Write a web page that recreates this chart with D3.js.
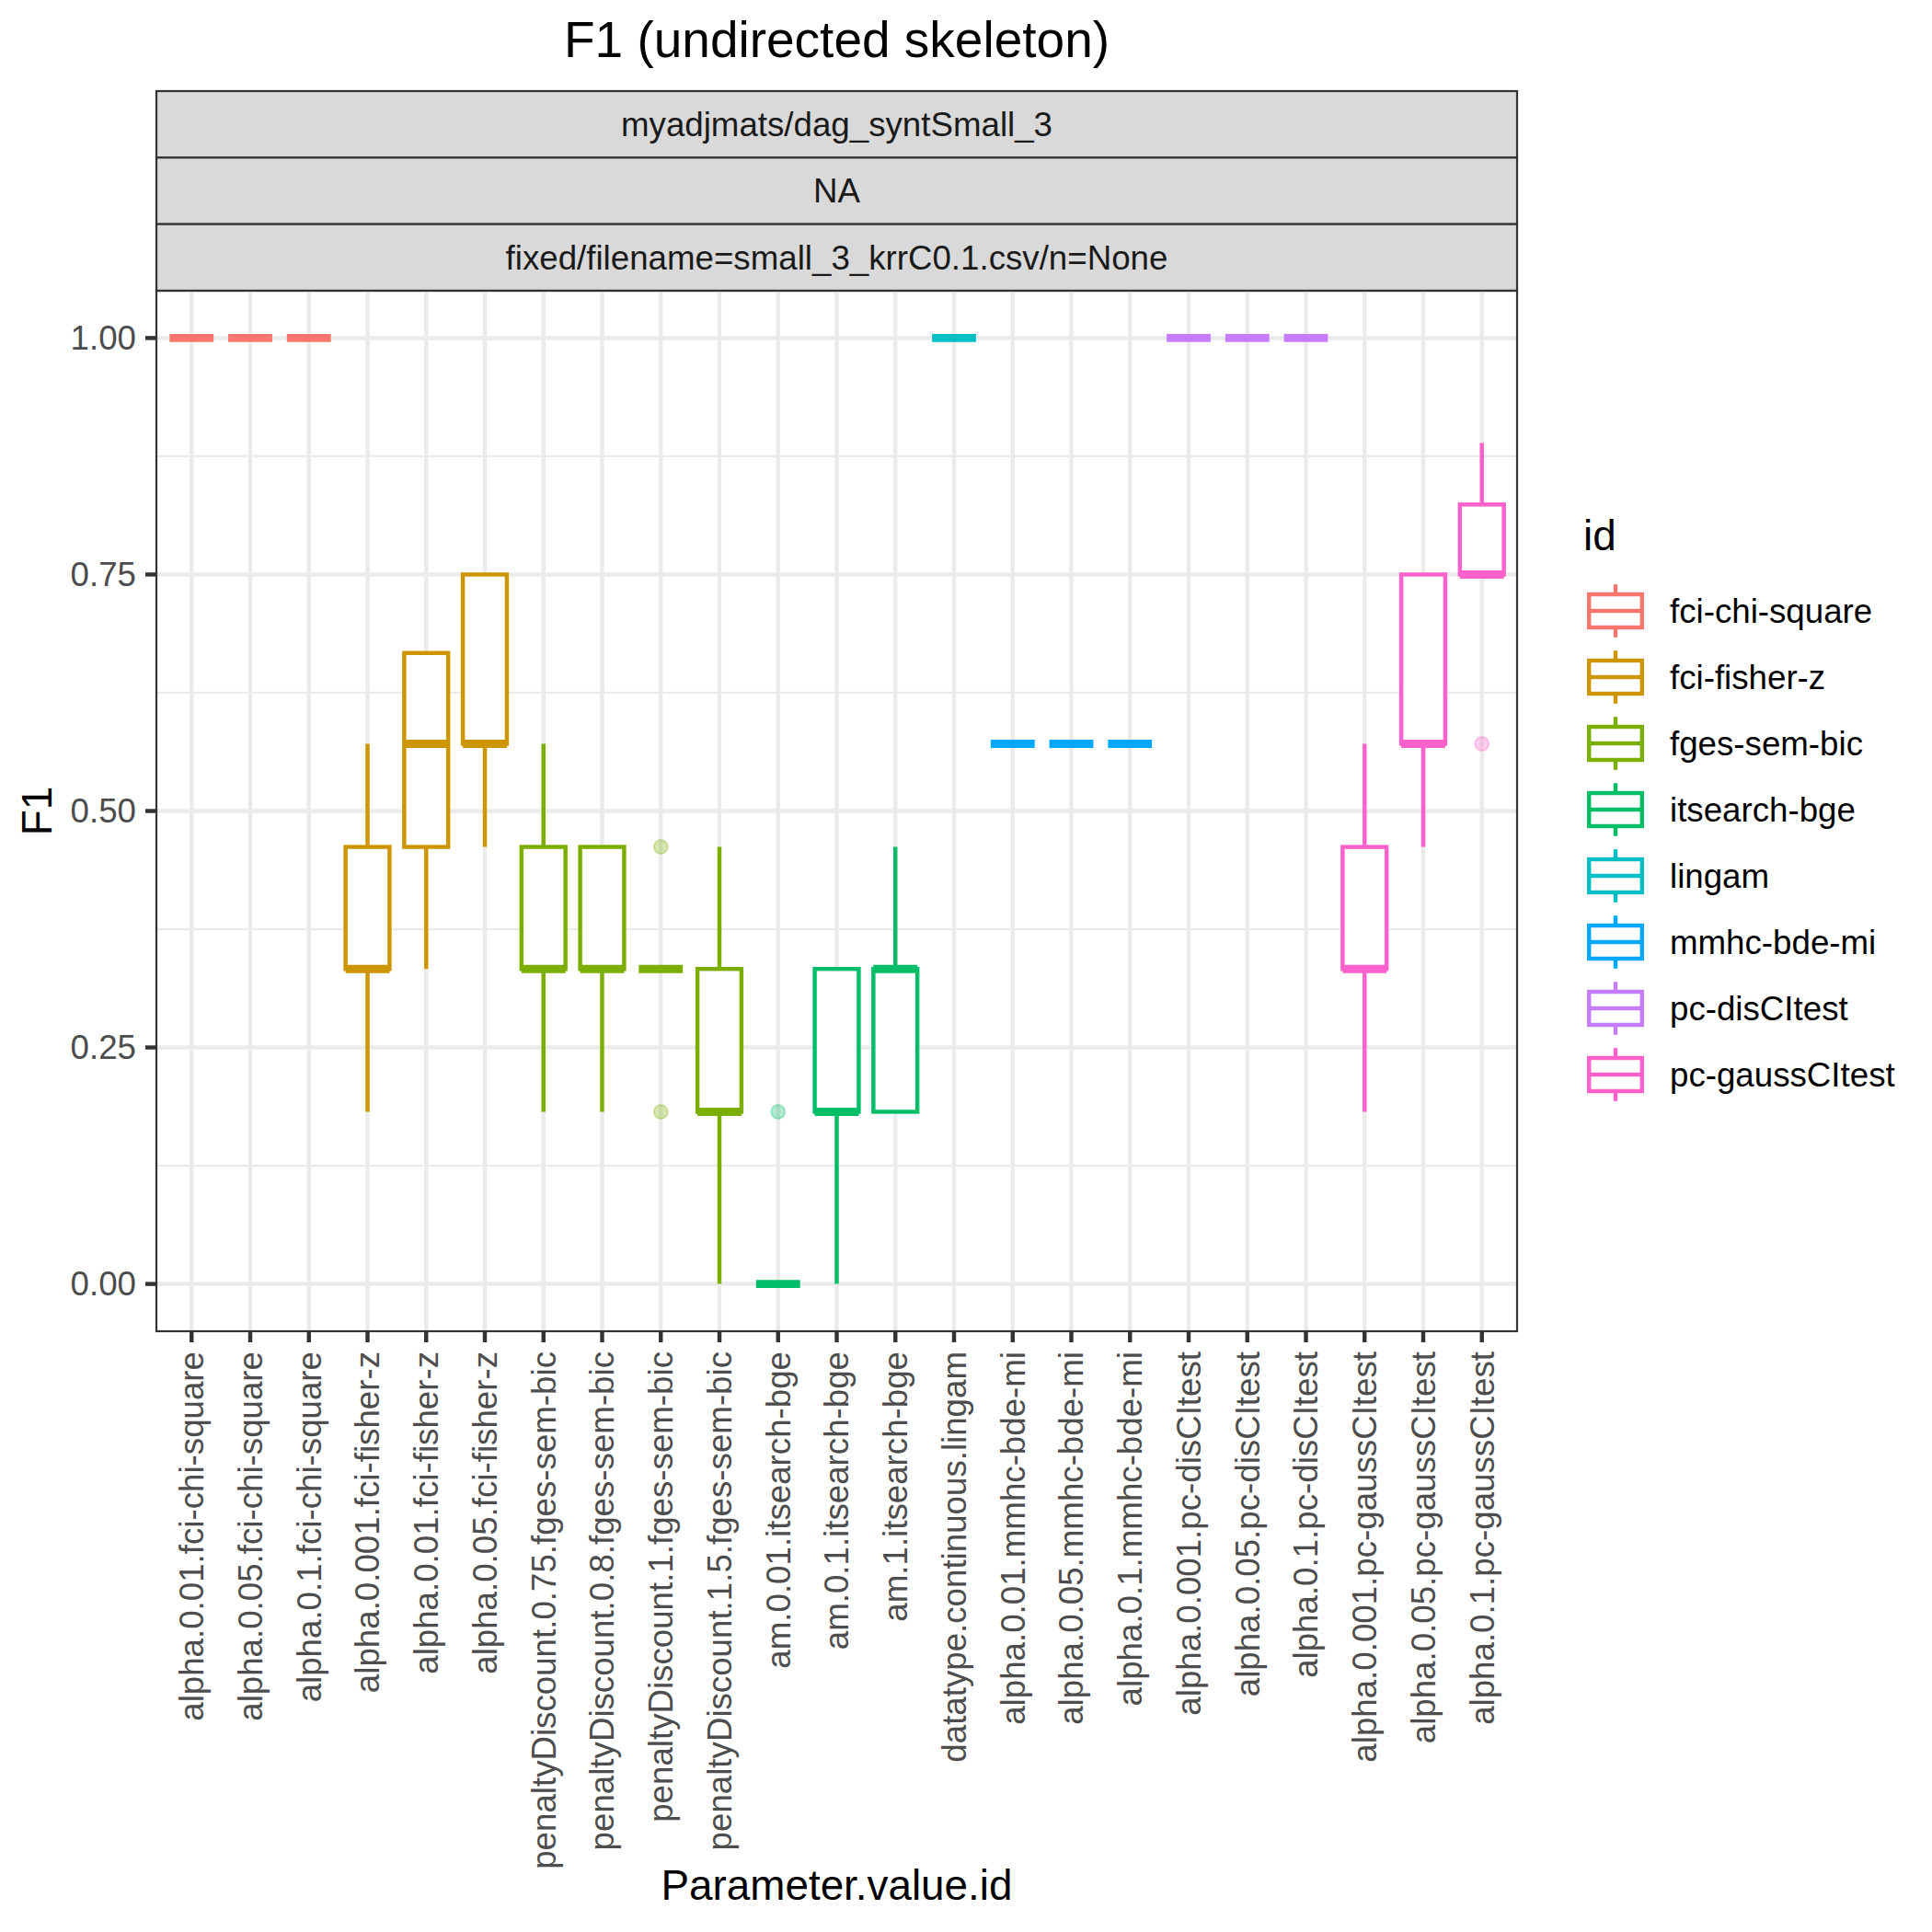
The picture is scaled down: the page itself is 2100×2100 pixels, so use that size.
<!DOCTYPE html>
<html>
<head>
<meta charset="utf-8">
<script src="https://d3js.org/d3.v7.min.js"></script>
<style>
    body { margin: 0; background: #fff; }
    text { font-family: "Liberation Sans", Arial, sans-serif; }
</style>
</head>
<body>
<svg id="chart" width="2100" height="2100"></svg>
<script>
const params = [
    "alpha.0.01.fci-chi-square", "alpha.0.05.fci-chi-square", "alpha.0.1.fci-chi-square",
    "alpha.0.001.fci-fisher-z", "alpha.0.01.fci-fisher-z", "alpha.0.05.fci-fisher-z",
    "penaltyDiscount.0.75.fges-sem-bic", "penaltyDiscount.0.8.fges-sem-bic",
    "penaltyDiscount.1.fges-sem-bic", "penaltyDiscount.1.5.fges-sem-bic",
    "am.0.01.itsearch-bge", "am.0.1.itsearch-bge", "am.1.itsearch-bge",
    "datatype.continuous.lingam",
    "alpha.0.01.mmhc-bde-mi", "alpha.0.05.mmhc-bde-mi", "alpha.0.1.mmhc-bde-mi",
    "alpha.0.001.pc-disCItest", "alpha.0.05.pc-disCItest", "alpha.0.1.pc-disCItest",
    "alpha.0.001.pc-gaussCItest", "alpha.0.05.pc-gaussCItest", "alpha.0.1.pc-gaussCItest"
];
const ids = [
    "fci-chi-square", "fci-chi-square", "fci-chi-square",
    "fci-fisher-z", "fci-fisher-z", "fci-fisher-z",
    "fges-sem-bic", "fges-sem-bic", "fges-sem-bic", "fges-sem-bic",
    "itsearch-bge", "itsearch-bge", "itsearch-bge",
    "lingam",
    "mmhc-bde-mi", "mmhc-bde-mi", "mmhc-bde-mi",
    "pc-disCItest", "pc-disCItest", "pc-disCItest",
    "pc-gaussCItest", "pc-gaussCItest", "pc-gaussCItest"
];
const idLevels = ["fci-chi-square", "fci-fisher-z", "fges-sem-bic", "itsearch-bge",
    "lingam", "mmhc-bde-mi", "pc-disCItest", "pc-gaussCItest"];
const idColors = ["#F8766D", "#CD9600", "#7CAE00", "#00BE67", "#00BFC4", "#00A9FF", "#C77CFF", "#FF61CC"];

// box stats per parameter value
const lowWhisker = [1, 1, 1, 0.182, 0.333, 0.462, 0.182, 0.182, 0.333, 0, 0, 0, 0.182, 1,
    0.571, 0.571, 0.571, 1, 1, 1, 0.182, 0.462, 0.75];
const q1 = [1, 1, 1, 0.333, 0.462, 0.571, 0.333, 0.333, 0.333, 0.182, 0, 0.182, 0.182, 1,
    0.571, 0.571, 0.571, 1, 1, 1, 0.333, 0.571, 0.75];
const median = [1, 1, 1, 0.333, 0.571, 0.571, 0.333, 0.333, 0.333, 0.182, 0, 0.182, 0.333, 1,
    0.571, 0.571, 0.571, 1, 1, 1, 0.333, 0.571, 0.75];
const q3 = [1, 1, 1, 0.462, 0.667, 0.75, 0.462, 0.462, 0.333, 0.333, 0, 0.333, 0.333, 1,
    0.571, 0.571, 0.571, 1, 1, 1, 0.462, 0.75, 0.824];
const highWhisker = [1, 1, 1, 0.571, 0.667, 0.75, 0.571, 0.462, 0.333, 0.462, 0, 0.333, 0.462, 1,
    0.571, 0.571, 0.571, 1, 1, 1, 0.571, 0.75, 0.889];
const outliers = [[], [], [], [], [], [], [], [], [0.462, 0.182], [], [0.182], [], [], [],
    [], [], [], [], [], [], [], [], [0.571]];

const yTicks = [0, 0.25, 0.5, 0.75, 1];
const yMinor = [0.125, 0.375, 0.625, 0.875];
const strips = ["myadjmats/dag_syntSmall_3", "NA", "fixed/filename=small_3_krrC0.1.csv/n=None"];

const lw = 4.44;
const panel = {left: 170, right: 1649, top: 316, bottom: 1447};

const data = params.map((p, i) => ({
    param: p, id: ids[i],
    lo: lowWhisker[i], q1: q1[i], med: median[i], q3: q3[i], hi: highWhisker[i],
    out: outliers[i]
}));

// ggplot discrete expansion: 0.6 units each side
const x = d3.scalePoint()
    .domain(params)
    .range([panel.left, panel.right])
    .padding(0.6);
const unit = x.step();

const y = d3.scaleLinear()
    .domain([-0.05, 1.05])
    .range([panel.bottom, panel.top]);

const color = d3.scaleOrdinal().domain(idLevels).range(idColors);

const svg = d3.select("#chart");

svg.append("rect").attr("width", 2100).attr("height", 2100).attr("fill", "#fff");

// Title
svg.append("text")
    .attr("x", (panel.left + panel.right) / 2)
    .attr("y", 62)
    .attr("text-anchor", "middle")
    .attr("font-size", 55)
    .attr("fill", "#000")
    .text("F1 (undirected skeleton)");

// Strips
const stripH = (panel.top - 99) / strips.length;
strips.forEach((s, i) => {
    svg.append("rect")
        .attr("x", panel.left)
        .attr("y", 99 + i * stripH)
        .attr("width", panel.right - panel.left)
        .attr("height", stripH)
        .attr("fill", "#D9D9D9")
        .attr("stroke", "#333333")
        .attr("stroke-width", 2.2);
    svg.append("text")
        .attr("x", (panel.left + panel.right) / 2)
        .attr("y", 99 + i * stripH + stripH / 2)
        .attr("dy", "0.35em")
        .attr("text-anchor", "middle")
        .attr("font-size", 36.7)
        .attr("fill", "#1A1A1A")
        .text(s);
});

// Grid
const grid = svg.append("g");
grid.selectAll(".minor")
    .data(yMinor)
    .join("line")
    .attr("x1", panel.left).attr("x2", panel.right)
    .attr("y1", d => y(d)).attr("y2", d => y(d))
    .attr("stroke", "#EBEBEB").attr("stroke-width", lw / 2);
grid.selectAll(".major")
    .data(yTicks)
    .join("line")
    .attr("x1", panel.left).attr("x2", panel.right)
    .attr("y1", d => y(d)).attr("y2", d => y(d))
    .attr("stroke", "#EBEBEB").attr("stroke-width", lw);
grid.selectAll(".vmajor")
    .data(params)
    .join("line")
    .attr("x1", d => x(d)).attr("x2", d => x(d))
    .attr("y1", panel.top).attr("y2", panel.bottom)
    .attr("stroke", "#EBEBEB").attr("stroke-width", lw);

// Boxplots
const boxW = 0.75 * unit;
const box = svg.append("g")
    .selectAll("g")
    .data(data)
    .join("g");

box.selectAll("circle")
    .data(d => d.out.map(v => ({v, d})))
    .join("circle")
    .attr("cx", o => x(o.d.param))
    .attr("cy", o => y(o.v))
    .attr("r", 7.5)
    .attr("fill", o => color(o.d.id))
    .attr("fill-opacity", 0.3)
    .attr("stroke", o => color(o.d.id))
    .attr("stroke-opacity", 0.3)
    .attr("stroke-width", 2);

box.append("line")
    .attr("x1", d => x(d.param)).attr("x2", d => x(d.param))
    .attr("y1", d => y(d.q3)).attr("y2", d => y(d.hi))
    .attr("stroke", d => color(d.id)).attr("stroke-width", lw);
box.append("line")
    .attr("x1", d => x(d.param)).attr("x2", d => x(d.param))
    .attr("y1", d => y(d.q1)).attr("y2", d => y(d.lo))
    .attr("stroke", d => color(d.id)).attr("stroke-width", lw);

box.append("rect")
    .attr("x", d => x(d.param) - boxW / 2)
    .attr("y", d => y(d.q3))
    .attr("width", boxW)
    .attr("height", d => y(d.q1) - y(d.q3))
    .attr("fill", "#fff")
    .attr("stroke", d => color(d.id))
    .attr("stroke-width", lw);

box.append("line")
    .attr("x1", d => x(d.param) - boxW / 2).attr("x2", d => x(d.param) + boxW / 2)
    .attr("y1", d => y(d.med)).attr("y2", d => y(d.med))
    .attr("stroke", d => color(d.id)).attr("stroke-width", lw * 2);

// Panel border
svg.append("rect")
    .attr("x", panel.left).attr("y", panel.top)
    .attr("width", panel.right - panel.left)
    .attr("height", panel.bottom - panel.top)
    .attr("fill", "none")
    .attr("stroke", "#333333")
    .attr("stroke-width", 2.2);

// Y axis
const yAxis = svg.append("g");
yAxis.selectAll("line")
    .data(yTicks)
    .join("line")
    .attr("x1", panel.left - 12).attr("x2", panel.left)
    .attr("y1", d => y(d)).attr("y2", d => y(d))
    .attr("stroke", "#333333").attr("stroke-width", lw);
yAxis.selectAll("text")
    .data(yTicks)
    .join("text")
    .attr("x", panel.left - 22)
    .attr("y", d => y(d))
    .attr("dy", "0.35em")
    .attr("text-anchor", "end")
    .attr("font-size", 36.7)
    .attr("fill", "#4D4D4D")
    .text(d => d3.format(".2f")(d));

svg.append("text")
    .attr("transform", `translate(56,${(panel.top + panel.bottom) / 2}) rotate(-90)`)
    .attr("text-anchor", "middle")
    .attr("font-size", 45.8)
    .attr("fill", "#000")
    .text("F1");

// X axis
const xAxis = svg.append("g");
xAxis.selectAll("line")
    .data(params)
    .join("line")
    .attr("x1", d => x(d)).attr("x2", d => x(d))
    .attr("y1", panel.bottom).attr("y2", panel.bottom + 12)
    .attr("stroke", "#333333").attr("stroke-width", lw);
xAxis.selectAll("text")
    .data(params)
    .join("text")
    .attr("transform", d => `translate(${x(d)},${panel.bottom + 22}) rotate(-90)`)
    .attr("dy", "0.35em")
    .attr("text-anchor", "end")
    .attr("font-size", 36.7)
    .attr("fill", "#4D4D4D")
    .text(d => d);

svg.append("text")
    .attr("x", (panel.left + panel.right) / 2)
    .attr("y", 2065)
    .attr("text-anchor", "middle")
    .attr("font-size", 45.8)
    .attr("fill", "#000")
    .text("Parameter.value.id");

// Legend
const legend = svg.append("g");
legend.append("text")
    .attr("x", 1721)
    .attr("y", 598)
    .attr("font-size", 45.8)
    .attr("fill", "#000")
    .text("id");

const key = legend.selectAll("g")
    .data(idLevels)
    .join("g")
    .attr("transform", (d, i) => `translate(1720,${628 + i * 72})`);

key.append("line")
    .attr("x1", 36).attr("x2", 36).attr("y1", 7.2).attr("y2", 64.8)
    .attr("stroke", d => color(d)).attr("stroke-width", lw);
key.append("rect")
    .attr("x", 7.2).attr("y", 18).attr("width", 57.6).attr("height", 36)
    .attr("fill", "#fff")
    .attr("stroke", d => color(d)).attr("stroke-width", lw);
key.append("line")
    .attr("x1", 7.2).attr("x2", 64.8).attr("y1", 36).attr("y2", 36)
    .attr("stroke", d => color(d)).attr("stroke-width", lw);
key.append("text")
    .attr("x", 95)
    .attr("y", 36)
    .attr("dy", "0.35em")
    .attr("font-size", 36.7)
    .attr("fill", "#000")
    .text(d => d);
</script>
</body>
</html>
